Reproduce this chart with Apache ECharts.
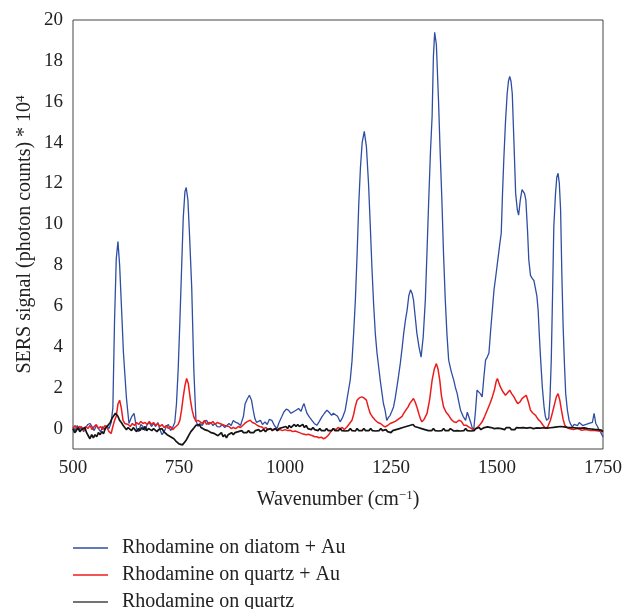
<!DOCTYPE html>
<html><head><meta charset="utf-8">
<script src="https://cdn.jsdelivr.net/npm/echarts@6/dist/echarts.min.js"></script>
<style>html,body{margin:0;padding:0;background:#fff}#c{width:626px;height:609px}</style>
</head><body><div id="c"></div>
<script>
var xTicks = [500, 750, 1000, 1250, 1500, 1750];
var yTicks = [0, 2, 4, 6, 8, 10, 12, 14, 16, 18, 20];
var seriesNames = ['Rhodamine on diatom + Au', 'Rhodamine on quartz + Au', 'Rhodamine on quartz'];

var blueX = [500,505,510,515,520,525,530,535,540,545,550,555,560,565,570,575,580,585,590,594,598,602,606,610,614,619,626,632,638,644,650,655,660,665,670,675,680,685,690,695,700,705,710,715,720,725,730,735,740,744,748,752,756,760,764,767,771,775,780,785,790,795,799,805,810,815,820,825,830,835,840,846,852,858,862,868,873,878,884,890,895,898,902,906,911,916,921,925,929,933,937,942,947,953,958,963,969,975,981,986,992,997,1003,1008,1014,1020,1026,1032,1038,1042,1045,1048,1052,1058,1063,1069,1075,1081,1087,1093,1099,1104,1110,1114,1118,1124,1130,1136,1142,1146,1150,1154,1158,1162,1166,1170,1174,1178,1182,1187,1192,1197,1201,1205,1209,1213,1217,1221,1225,1229,1232,1236,1240,1244,1248,1252,1256,1260,1264,1268,1272,1276,1280,1284,1288,1292,1296,1300,1303,1307,1311,1316,1321,1326,1331,1335,1339,1343,1347,1350,1353,1357,1362,1366,1370,1374,1378,1382,1386,1392,1398,1402,1406,1410,1414,1420,1426,1430,1434,1438,1441,1445,1449,1453,1457,1461,1465,1469,1473,1477,1481,1485,1489,1493,1497,1501,1504,1507,1510,1513,1516,1520,1524,1527,1530,1533,1536,1540,1544,1548,1551,1555,1559,1562,1565,1568,1572,1575,1579,1583,1587,1591,1594,1597,1600,1603,1607,1611,1614,1617,1620,1622,1625,1628,1631,1634,1638,1641,1644,1647,1650,1653,1656,1659,1662,1666,1670,1674,1678,1682,1686,1690,1694,1698,1702,1705,1710,1714,1717,1721,1725,1729,1733,1737,1741,1745,1750];
var blueY = [0.1,-0.1,0.15,-0.05,0.1,-0.15,0.05,0.2,0.25,0.1,-0.1,0.15,0.0,-0.15,0.1,-0.05,0.15,0.0,0.3,1.0,5.3,8.3,9.15,8.0,6.1,3.7,1.5,0.25,0.57,0.74,0.0,-0.15,0.2,0.1,-0.1,0.2,0.3,0.1,0.25,0.1,0.3,-0.05,-0.3,-0.15,0.1,0.2,-0.1,0.05,0.3,1.2,2.86,5.2,7.76,10.3,11.6,11.8,11.2,9.4,6.9,2.86,0.4,0.1,0.25,0.15,0.35,0.4,0.2,0.3,0.15,0.25,0.1,0.08,0.2,0.05,0.1,0.25,0.15,0.4,0.3,0.25,0.15,0.08,0.6,1.22,1.45,1.63,1.39,0.9,0.49,0.3,0.25,0.4,0.2,0.33,0.2,0.45,0.4,0.15,0.0,0.3,0.57,0.8,0.95,0.9,0.75,0.82,0.9,0.98,0.85,1.1,1.22,1.0,0.74,0.55,0.41,0.25,0.16,0.35,0.57,0.75,0.9,0.8,0.65,0.75,0.82,0.6,0.33,0.55,0.9,1.4,1.9,2.4,3.3,4.7,6.3,8.5,11.0,12.8,14.0,14.55,13.8,12.0,10.0,7.9,6.1,4.65,3.7,3.0,2.3,1.7,1.24,0.9,0.4,0.55,0.65,0.85,1.06,1.5,2.04,2.6,3.2,3.9,4.67,5.3,5.8,6.5,6.79,6.6,6.3,5.5,4.67,4.0,3.5,4.5,6.3,8.7,11.2,13.5,15.3,18.2,19.4,18.8,16.1,13.5,11.2,8.5,6.3,4.6,3.35,2.8,2.37,2.0,1.72,1.3,0.9,0.6,0.4,0.8,0.81,0.3,0.08,-0.08,0.8,1.88,1.96,1.7,1.55,2.5,3.35,3.5,3.7,4.8,5.8,6.8,7.43,8.1,8.6,9.1,9.56,11.5,13.15,15.0,16.4,17.0,17.24,17.0,16.4,14.0,11.5,10.7,10.45,11.2,11.7,11.76,11.5,11.2,9.7,8.25,7.5,7.35,7.25,7.19,6.5,5.8,4.5,3.35,2.0,1.06,0.6,0.41,0.45,0.49,1.5,3.35,6.5,9.88,11.5,12.3,12.5,12.0,10.7,7.5,4.98,3.2,1.71,0.9,0.41,0.2,0.08,0.2,0.25,0.15,0.3,0.25,0.15,0.08,0.2,0.15,0.25,0.2,0.3,0.74,0.25,0.1,-0.08,-0.2,-0.41];

var redX = [500,505,510,515,520,525,530,535,540,545,550,555,560,565,570,575,580,585,590,594,598,602,606,610,614,618,622,626,630,635,640,645,650,655,660,665,670,675,680,685,690,695,700,705,710,715,720,725,730,735,740,744,748,752,756,760,764,768,772,777,781,785,790,795,800,805,810,815,820,825,830,835,840,846,852,858,862,868,873,878,884,890,895,900,905,910,914,918,923,929,935,940,945,950,955,960,965,970,976,982,988,994,1000,1006,1012,1018,1024,1028,1034,1040,1044,1050,1055,1059,1065,1070,1075,1080,1086,1091,1096,1102,1108,1114,1120,1125,1130,1135,1140,1146,1150,1154,1158,1162,1166,1170,1175,1181,1186,1192,1197,1201,1207,1213,1219,1225,1231,1236,1242,1248,1254,1260,1264,1270,1276,1280,1285,1290,1294,1298,1303,1307,1311,1316,1320,1323,1328,1335,1341,1347,1352,1357,1361,1365,1369,1374,1380,1386,1392,1398,1404,1410,1416,1422,1428,1433,1440,1445,1450,1455,1460,1465,1471,1477,1483,1489,1494,1498,1501,1505,1508,1514,1520,1525,1530,1535,1540,1545,1549,1554,1559,1564,1569,1574,1579,1585,1591,1597,1603,1609,1615,1620,1626,1631,1636,1640,1644,1648,1652,1656,1660,1665,1670,1680,1690,1700,1710,1720,1730,1740,1750];
var redY = [0.0,0.15,-0.05,0.1,0.05,-0.1,0.1,0.0,0.15,-0.05,0.1,0.2,0.0,0.1,-0.05,0.15,0.05,-0.15,-0.24,0.1,0.4,0.6,1.2,1.39,1.0,0.4,0.25,0.16,0.2,0.1,0.25,0.15,0.3,0.2,0.35,0.25,0.3,0.2,0.35,0.2,0.3,0.15,0.25,0.1,0.2,0.05,0.15,0.0,0.1,-0.05,0.05,0.08,0.2,0.4,0.9,1.55,2.1,2.45,2.2,1.39,0.9,0.57,0.35,0.4,0.33,0.25,0.4,0.2,0.3,0.25,0.35,0.2,0.3,0.25,0.2,0.15,0.08,0.1,0.0,0.05,0.0,0.1,0.05,0.15,0.25,0.33,0.4,0.41,0.3,0.25,0.15,0.1,0.08,0.0,0.05,-0.05,0.0,-0.05,0.0,-0.1,-0.05,-0.1,-0.05,-0.1,-0.08,-0.15,-0.12,-0.16,-0.2,-0.25,-0.24,-0.3,-0.28,-0.33,-0.35,-0.4,-0.4,-0.45,-0.42,-0.5,-0.45,-0.33,-0.15,0.0,-0.05,0.05,0.0,0.05,-0.05,0.08,0.1,0.3,0.41,0.7,1.1,1.39,1.5,1.55,1.5,1.39,1.0,0.74,0.55,0.41,0.3,0.25,0.15,0.08,0.15,0.25,0.3,0.35,0.41,0.5,0.6,0.74,0.9,1.05,1.22,1.3,1.47,1.3,1.06,0.7,0.45,0.33,0.45,0.74,1.4,2.37,2.9,3.18,2.9,2.37,1.6,1.06,0.8,0.65,0.45,0.33,0.3,0.41,0.35,0.16,0.16,0.08,0.0,-0.08,0.0,0.08,0.2,0.33,0.6,0.9,1.2,1.55,1.9,2.3,2.45,2.2,2.04,1.8,1.63,1.75,1.88,1.7,1.55,1.35,1.22,1.3,1.47,1.55,1.63,1.3,0.9,0.75,0.65,0.45,0.33,0.15,0.0,0.1,0.41,0.8,1.22,1.55,1.71,1.4,0.9,0.45,0.16,0.05,0.0,-0.05,0.0,-0.08,-0.05,-0.1,-0.1,-0.12,-0.16];

var blackX = [500,504,508,512,516,520,524,528,532,536,540,544,548,552,556,560,564,568,572,576,580,584,588,592,596,600,603,606,610,614,618,622,626,630,634,638,642,646,650,654,658,662,666,670,674,678,682,686,690,694,698,702,706,710,714,718,722,726,730,734,738,742,746,750,754,758,762,766,770,774,778,782,786,790,794,798,802,806,810,814,818,822,826,830,834,838,842,846,850,854,858,862,866,870,874,878,882,886,890,894,898,902,906,910,914,918,922,926,930,934,938,942,946,950,954,958,962,966,970,974,978,982,986,990,994,998,1002,1006,1010,1014,1018,1022,1026,1030,1034,1038,1042,1046,1050,1054,1058,1062,1066,1070,1074,1078,1082,1086,1090,1094,1098,1102,1106,1110,1114,1118,1122,1126,1130,1134,1138,1142,1146,1150,1154,1158,1162,1166,1170,1174,1178,1182,1186,1190,1194,1198,1202,1206,1210,1214,1218,1222,1226,1230,1234,1238,1242,1246,1250,1254,1258,1262,1266,1270,1274,1278,1282,1286,1290,1294,1298,1302,1306,1310,1314,1318,1322,1326,1330,1334,1338,1342,1346,1350,1354,1358,1362,1366,1370,1374,1378,1382,1386,1390,1394,1398,1402,1406,1410,1414,1418,1422,1426,1430,1434,1438,1442,1446,1450,1454,1458,1462,1466,1470,1474,1478,1482,1486,1490,1494,1498,1502,1506,1510,1514,1518,1522,1526,1530,1534,1538,1542,1546,1550,1554,1558,1562,1566,1570,1574,1578,1582,1586,1590,1594,1598,1602,1606,1610,1614,1618,1622,1626,1630,1634,1638,1642,1646,1650,1654,1658,1662,1666,1670,1674,1678,1682,1686,1690,1694,1698,1702,1706,1710,1714,1718,1722,1726,1730,1734,1738,1742,1746,1750];
var blackY = [0.0,-0.2,-0.1,0.05,-0.15,-0.05,-0.1,0.05,-0.2,-0.35,-0.5,-0.3,-0.45,-0.3,-0.4,-0.2,-0.3,-0.15,-0.25,0.0,0.1,0.05,0.3,0.5,0.45,0.75,0.82,0.6,0.4,0.3,0.16,0.05,-0.05,0.05,0.0,-0.1,0.05,-0.05,-0.15,0.0,-0.1,0.05,-0.05,0.1,-0.1,0.0,0.05,-0.1,0.0,-0.05,-0.15,-0.05,-0.1,0.0,-0.15,-0.2,-0.3,-0.25,-0.4,-0.4,-0.5,-0.6,-0.65,-0.75,-0.82,-0.8,-0.7,-0.6,-0.45,-0.3,-0.15,-0.05,0.05,0.16,0.1,0.2,0.05,0.1,-0.05,0.0,-0.1,-0.05,-0.2,-0.15,-0.25,-0.2,-0.35,-0.3,-0.2,-0.4,-0.3,-0.45,-0.3,-0.35,-0.2,-0.3,-0.2,-0.25,-0.15,-0.2,-0.1,-0.2,-0.15,-0.2,-0.1,-0.2,-0.15,-0.2,-0.1,-0.15,-0.05,-0.15,-0.1,-0.05,-0.15,-0.05,-0.1,0.0,-0.1,-0.05,0.0,-0.1,0.0,-0.05,0.05,0.0,0.1,0.0,0.15,0.05,0.1,0.2,0.1,0.2,0.1,0.15,0.2,0.05,0.15,0.0,0.05,-0.05,0.05,-0.05,0.0,-0.1,0.0,-0.1,-0.05,-0.1,0.0,-0.1,-0.05,-0.1,0.0,-0.1,-0.05,-0.1,0.0,-0.1,-0.05,-0.12,-0.05,-0.1,0.0,-0.1,-0.05,-0.12,0.0,-0.1,-0.05,-0.1,0.0,-0.1,-0.05,-0.1,0.0,-0.1,-0.05,-0.12,-0.05,-0.1,0.0,-0.1,-0.15,-0.05,-0.15,-0.1,-0.2,-0.1,-0.15,-0.05,-0.12,0.0,-0.05,0.05,0.0,0.1,0.05,0.15,0.1,0.2,0.1,0.15,0.05,0.12,0.0,0.05,-0.05,0.0,-0.1,-0.05,-0.1,0.0,-0.1,-0.05,-0.12,-0.05,-0.1,0.0,-0.1,-0.05,-0.1,0.0,-0.08,-0.12,-0.05,-0.1,-0.05,-0.12,-0.05,-0.1,0.0,-0.1,-0.05,-0.12,-0.05,-0.1,0.0,-0.05,0.05,-0.05,0.0,0.05,0.0,0.08,0.0,0.05,0.1,0.0,0.08,0.02,0.1,0.0,0.05,-0.05,0.05,0.0,0.05,-0.05,0.02,-0.05,0.05,-0.02,0.03,-0.05,0.05,-0.03,0.02,-0.05,0.05,-0.02,0.0,-0.06,0.03,-0.04,0.02,-0.06,0.04,-0.04,0.02,-0.05,0.04,-0.02,0.06,0.0,0.08,0.02,0.1,0.03,0.08,0.0,0.06,0.02,0.05,-0.02,0.04,-0.04,0.02,-0.05,0.02,-0.04,0.03,-0.06,0.0,-0.06,-0.02,-0.08,-0.04,-0.1,-0.05,-0.12,-0.08,-0.15];

function zip(xs, ys) { return xs.map(function (x, i) { return [x, ys[i]]; }); }

var FONT = 'Liberation Serif';
var COLORS = ['#2f4ea3', '#ec1c1c', '#141414'];
var chart = echarts.init(document.getElementById('c'), null, {renderer: 'canvas'});
chart.setOption({
  animation: false,
  backgroundColor: '#fff',
  grid: {left: 73, right: 23, top: 20, bottom: 160, show: true, borderColor: '#444', borderWidth: 1, backgroundColor: 'transparent'},
  xAxis: {
    type: 'value', min: xTicks[0], max: xTicks[xTicks.length - 1], interval: 250,
    axisLine: {show: false}, axisTick: {show: false}, splitLine: {show: false},
    axisLabel: {color: '#222', fontFamily: FONT, fontSize: 19, margin: 10, formatter: function (v) { return String(v); }},
    name: 'Wavenumber (cm{sup|\u22121})', nameLocation: 'middle', nameGap: 40,
    nameTextStyle: {color: '#222', fontFamily: FONT, fontSize: 20,
      rich: {sup: {fontFamily: FONT, fontSize: 13, verticalAlign: 'top', padding: [0, 0, 8, 0], color: '#222'}}}
  },
  yAxis: {
    type: 'value', min: -1, max: yTicks[yTicks.length - 1], interval: 1,
    axisLine: {show: false}, axisTick: {show: false}, splitLine: {show: false},
    axisLabel: {color: '#222', fontFamily: FONT, fontSize: 19, margin: 10,
      formatter: function (v) { var r = Math.round(v); return (yTicks.indexOf(r) >= 0 && Math.abs(v - r) < 1e-6) ? String(r) : ''; }},
    name: 'SERS signal (photon counts) * 10{sup|4}', nameLocation: 'middle', nameGap: 38, nameRotate: 90, nameMoveOverlap: false,
    nameTextStyle: {color: '#222', fontFamily: FONT, fontSize: 20,
      rich: {sup: {fontFamily: FONT, fontSize: 13, verticalAlign: 'top', padding: [0, 0, 8, 0], color: '#222'}}}
  },
  legend: {
    orient: 'vertical', left: 73, top: 538, height: 120, padding: 0, itemWidth: 35, itemHeight: 1.6, itemGap: 7,
    textStyle: {color: '#222', fontFamily: FONT, fontSize: 20, padding: [0, 0, 0, 9]},
    data: [
      {name: seriesNames[0], icon: 'rect', itemStyle: {color: COLORS[0]}},
      {name: seriesNames[1], icon: 'rect', itemStyle: {color: COLORS[1]}},
      {name: seriesNames[2], icon: 'rect', itemStyle: {color: '#444'}}
    ]
  },
  series: [
    {name: seriesNames[0], type: 'line', data: zip(blueX, blueY), symbol: 'none', lineStyle: {color: COLORS[0], width: 1.3}, itemStyle: {color: COLORS[0]}, z: 1},
    {name: seriesNames[1], type: 'line', data: zip(redX, redY), symbol: 'none', lineStyle: {color: COLORS[1], width: 1.5}, itemStyle: {color: COLORS[1]}, z: 2},
    {name: seriesNames[2], type: 'line', data: zip(blackX, blackY), symbol: 'none', lineStyle: {color: COLORS[2], width: 1.7}, itemStyle: {color: COLORS[2]}, z: 3}
  ]
});
</script></body></html>
